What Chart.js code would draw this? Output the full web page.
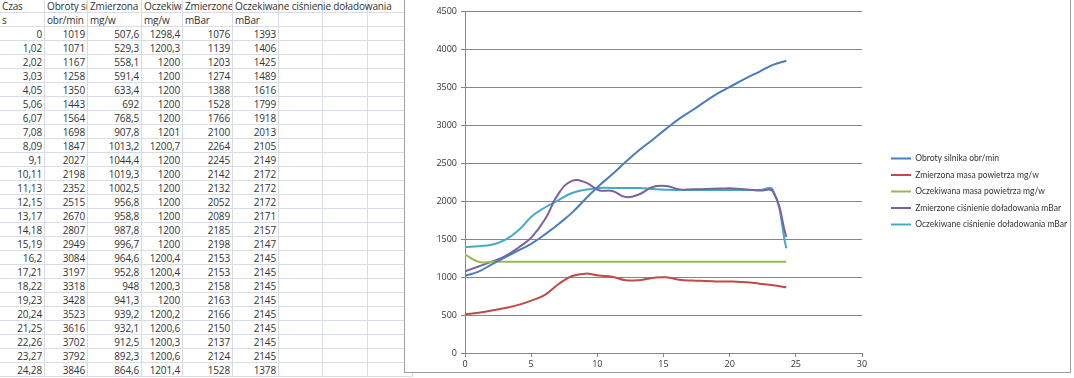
<!DOCTYPE html>
<html>
<head>
<meta charset="utf-8">
<script src="https://cdn.jsdelivr.net/npm/chart.js@4/dist/chart.umd.min.js"></script>
<style>
  html, body { margin: 0; padding: 0; background: #fff; }
  body { width: 1074px; height: 378px; position: relative; overflow: hidden; font-family: "Open Sans", "Liberation Sans", sans-serif; }
  #sheet { position: absolute; left: 0; top: -1px; width: 410px; height: 390px; }
  .cell { position: absolute; height: 14px; line-height: 14px; font-size: 10px; color: #333; box-sizing: border-box;
          border-right: 1px solid #d8dce4; border-bottom: 1px solid #d8dce4; white-space: nowrap; overflow: hidden; padding: 0 2px;
          letter-spacing: -0.15px; }
  .num { text-align: right; }
  .spill { overflow: visible; }
  #chartBox { position: absolute; left: 404px; top: -1px; width: 667px; height: 374px; background: #fff;
              border: 1px solid #a0a0a0; box-sizing: border-box; }
</style>
</head>
<body>
<div id="sheet"></div>
<div id="chartBox"><canvas id="chart"></canvas></div>
<script>
// data read from the spreadsheet
const czas = [0, 1.02, 2.02, 3.03, 4.05, 5.06, 6.07, 7.08, 8.09, 9.1, 10.11, 11.13, 12.15, 13.17, 14.18, 15.19, 16.2, 17.21, 18.22, 19.23, 20.24, 21.25, 22.26, 23.27, 24.28];
const obroty = [1019, 1071, 1167, 1258, 1350, 1443, 1564, 1698, 1847, 2027, 2198, 2352, 2515, 2670, 2807, 2949, 3084, 3197, 3318, 3428, 3523, 3616, 3702, 3792, 3846];
const masaZmierzona = [507.6, 529.3, 558.1, 591.4, 633.4, 692, 768.5, 907.8, 1013.2, 1044.4, 1019.3, 1002.5, 956.8, 958.8, 987.8, 996.7, 964.6, 952.8, 948, 941.3, 939.2, 932.1, 912.5, 892.3, 864.6];
const masaOczekiwana = [1298.4, 1200.3, 1200, 1200, 1200, 1200, 1200, 1201, 1200.7, 1200, 1200, 1200, 1200, 1200, 1200, 1200, 1200.4, 1200.4, 1200.3, 1200, 1200.2, 1200.6, 1200.3, 1200.6, 1201.4];
const cisnienieZmierzone = [1076, 1139, 1203, 1274, 1388, 1528, 1766, 2100, 2264, 2245, 2142, 2132, 2052, 2089, 2185, 2198, 2153, 2153, 2158, 2163, 2166, 2150, 2137, 2124, 1528];
const cisnienieOczekiwane = [1393, 1406, 1425, 1489, 1616, 1799, 1918, 2013, 2105, 2149, 2172, 2172, 2172, 2171, 2157, 2147, 2145, 2145, 2145, 2145, 2145, 2145, 2145, 2145, 1378];

const headers = ['Czas', 'Obroty silnika', 'Zmierzona masa powietrza', 'Oczekiwana masa powietrza', 'Zmierzone ciśnienie doładowania', 'Oczekiwane ciśnienie doładowania'];
const units = ['s', 'obr/min', 'mg/w', 'mg/w', 'mBar', 'mBar'];
const seriesNames = [
  'Obroty silnika obr/min',
  'Zmierzona masa powietrza mg/w',
  'Oczekiwana masa powietrza mg/w',
  'Zmierzone ciśnienie doładowania mBar',
  'Oczekiwane ciśnienie doładowania mBar'
];
const colors = ['#4a7ebb', '#be4b48', '#98b954', '#7d60a0', '#46aac5'];
const xTicks = [0, 30, 5];
const yTicks = [0, 4500, 500];

// spreadsheet on the left
const colLeft = [0, 45, 88, 142, 183, 233, 279, 323, 368];
const colWidth = [45, 43, 54, 41, 50, 46, 44, 45, 45];
const rowH = 14;
const sheet = document.getElementById('sheet');
const columns = [czas, obroty, masaZmierzona, masaOczekiwana, cisnienieZmierzone, cisnienieOczekiwane];
const fmt = v => String(v).replace('.', ',');

function addCell(row, col, text, cls) {
  const d = document.createElement('div');
  d.className = 'cell' + (cls ? ' ' + cls : '');
  d.style.left = colLeft[col] + 'px';
  d.style.top = (row * rowH) + 'px';
  d.style.width = colWidth[col] + 'px';
  if (text !== '') {
    const s = document.createElement('span');
    s.textContent = text;
    d.appendChild(s);
  }
  sheet.appendChild(d);
}

const nRows = czas.length + 2;
for (let r = 0; r < nRows; r++) {
  for (let c = 0; c < colLeft.length; c++) {
    if (r === 0 && c < headers.length) {
      addCell(r, c, headers[c], c === headers.length - 1 ? 'spill' : '');
    } else if (r === 1 && c < units.length) {
      addCell(r, c, units[c]);
    } else if (r >= 2 && c < columns.length) {
      addCell(r, c, fmt(columns[c][r - 2]), 'num');
    } else {
      addCell(r, c, '');
    }
  }
}
// let the long header run over the empty cells
sheet.querySelectorAll('.spill').forEach(el => { el.style.zIndex = 2; });

// chart
const seriesValues = [obroty, masaZmierzona, masaOczekiwana, cisnienieZmierzone, cisnienieOczekiwane];
const datasets = seriesValues.map((vals, i) => ({
  label: seriesNames[i],
  data: czas.map((t, k) => ({ x: t, y: vals[k] })),
  borderColor: colors[i],
  backgroundColor: colors[i],
  borderWidth: 2,
  pointRadius: 0,
  showLine: true,
  tension: 0.45,
  pointStyle: 'line'
}));

// legend sits in a fixed column right of the plot, like in Excel
const legendColumn = {
  id: 'legendColumn',
  beforeLayout(chart) {
    const lg = chart.legend;
    if (!lg || lg._fixedFit) return;
    const fit = lg.fit;
    lg.fit = function () { fit.call(this); this.width = 208; };
    lg._fixedFit = true;
  },
  afterLayout(chart) {
    const lg = chart.legend;
    const dx = chart.chartArea.right + 21 - lg.left;
    lg.left += dx;
    lg.right += dx;
  }
};

const axisGray = '#868686';
const tickFont = { family: 'Open Sans', size: 9 };
new Chart(document.getElementById('chart'), {
  type: 'scatter',
  data: { datasets },
  plugins: [legendColumn],
  options: {
    responsive: true,
    maintainAspectRatio: false,
    animation: false,
    layout: { padding: { top: 11, left: 0, right: 0, bottom: 0 } },
    plugins: {
      tooltip: { enabled: false },
      legend: {
        position: 'right',
        labels: {
          usePointStyle: true,
          pointStyleWidth: 20,
          boxHeight: 9,
          padding: 8,
          color: '#333',
          font: { family: 'Lato', size: 8.5 }
        }
      }
    },
    scales: {
      x: {
        type: 'linear',
        min: xTicks[0], max: xTicks[1],
        ticks: { stepSize: xTicks[2], color: '#333', font: tickFont, padding: 2 },
        grid: { drawOnChartArea: false, drawTicks: true, tickLength: 4, color: axisGray },
        border: { display: true, color: axisGray, width: 1 },
        afterFit: s => { s.height = 19; }
      },
      y: {
        min: yTicks[0], max: yTicks[1],
        ticks: { stepSize: yTicks[2], color: '#333', font: tickFont, padding: 4, callback: v => String(v) },
        grid: { drawOnChartArea: true, drawTicks: true, tickLength: 4, color: axisGray },
        border: { display: true, color: axisGray, width: 1 },
        afterFit: s => { s.width = 60; }
      }
    }
  }
});
</script>
</body>
</html>
